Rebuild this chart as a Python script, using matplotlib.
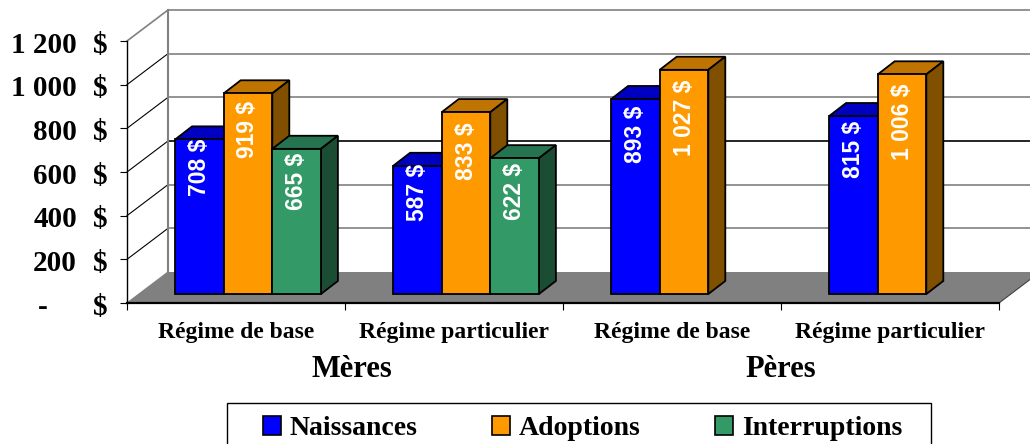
import matplotlib
matplotlib.use("Agg")
import matplotlib.pyplot as plt
from matplotlib.patches import Polygon, Patch, Rectangle

plt.rcParams['font.family'] = ['Liberation Serif', 'DejaVu Serif']

regimes = ["Régime de base", "Régime particulier", "Régime de base", "Régime particulier"]
parents = ["Mères", "Pères"]
series = ["Naissances", "Adoptions", "Interruptions"]
naissances = [708, 587, 893, 815]
adoptions = [919, 833, 1027, 1006]
interruptions = [665, 622, None, None]
valeurs = [naissances, adoptions, interruptions]
y_ticks = [0, 200, 400, 600, 800, 1000, 1200]
y_labels = ["-", "200", "400", "600", "800", "1 000", "1 200"]

# front, top, side colour of each series
couleurs = [("#0000FF", "#0000C0", "#000080"),
            ("#FF9900", "#BF7300", "#805000"),
            ("#339966", "#267350", "#1A4D33")]

# how far under the bar top each value label starts (pixels)
decalages = [[-1, -2, 7, 5],
             [7, 10, 10, 9],
             [4, 5, 0, 0]]

# depth of the floor and of the bars, in data units
px_y = 1200 / 262
prof_x = 41 / 218
prof_y = 142
bar_dx = 17 / 218
bar_dy = 60
base_x = 12 / 218
base_y = 41
larg = 48.6 / 218


def etiquette(v):
    txt = f"{v:,}".replace(",", " ")
    return txt + " $"


fig = plt.figure(figsize=(10.3, 4.44), dpi=100)
ax = fig.add_axes([127 / 1030, (444 - 303) / 444, 872 / 1030, 262 / 444])
ax.set_xlim(0, 4)
ax.set_ylim(0, 1200)
ax.patch.set_visible(False)

# floor
ax.add_patch(Polygon([(0, 0), (4, 0), (4 + prof_x, prof_y), (prof_x, prof_y)],
                     facecolor="#808080", edgecolor="none", clip_on=False, zorder=1))

# walls and gridlines
for t in y_ticks:
    if t > 0:
        gris = "#000000" if t == 600 else "#808080"
        ax.plot([prof_x, 4 + prof_x], [t + prof_y, t + prof_y], color=gris, lw=1.2,
                clip_on=False, zorder=1)
        ax.plot([0, prof_x], [t, t + prof_y], color="#808080" if t == 1200 else "#000000",
                lw=1.2 if t == 1200 else 0.8, clip_on=False, zorder=1)
ax.plot([prof_x, prof_x], [prof_y, 1200 + prof_y], color="#808080", lw=1.5, clip_on=False, zorder=1)
ax.plot([0, prof_x], [0, prof_y], color="#808080", lw=0.8, clip_on=False, zorder=1)
ax.plot([4, 4 + prof_x], [0, prof_y], color="#404040", lw=0.8, clip_on=False, zorder=1)

# bars
z = 3
for g in range(4):
    for s in range(3):
        v = valeurs[s][g]
        if v is None:
            continue
        x0 = g + 0.5 + base_x + (s - 1.5) * larg
        x1 = x0 + larg
        y0 = base_y
        y1 = base_y + v
        front, top, side = couleurs[s]
        ax.add_patch(Polygon([(x0, y1), (x1, y1), (x1 + bar_dx, y1 + bar_dy), (x0 + bar_dx, y1 + bar_dy)],
                             facecolor=top, edgecolor="black", lw=1.3, clip_on=False, zorder=z))
        ax.add_patch(Polygon([(x1, y0), (x1 + bar_dx, y0 + bar_dy), (x1 + bar_dx, y1 + bar_dy), (x1, y1)],
                             facecolor=side, edgecolor="black", lw=1.3, clip_on=False, zorder=z))
        ax.add_patch(Polygon([(x0, y0), (x1, y0), (x1, y1), (x0, y1)],
                             facecolor=front, edgecolor="black", lw=1.3, clip_on=False, zorder=z))
        ax.text((x0 + x1) / 2, y1 - decalages[s][g] * px_y, etiquette(v), rotation=90, ha="center", va="top",
                color="white", fontsize=16.5, fontweight="bold", family="Liberation Sans", zorder=z)
        z += 1

# axes
for nom in ["top", "right"]:
    ax.spines[nom].set_visible(False)
ax.spines["bottom"].set_linewidth(1.6)
ax.spines["bottom"].set_zorder(2)
ax.spines["left"].set_linewidth(1.0)
ax.set_yticks(y_ticks)
ax.set_yticklabels([])
ax.set_xticks(range(5))
ax.set_xticklabels([])
ax.tick_params(axis="both", length=5, width=0.8, direction="out")

trans = ax.get_yaxis_transform()
for t, lab in zip(y_ticks, y_labels):
    y_txt = t - 4 * px_y
    if lab == "-":
        ax.text(-84 / 872, y_txt, lab, transform=trans, ha="center", va="center",
                fontsize=21, fontweight="bold", clip_on=False)
    else:
        ax.text(-50 / 872, y_txt, lab, transform=trans, ha="right", va="center",
                fontsize=21, fontweight="bold", clip_on=False)
    ax.text(-19 / 872, y_txt, "$", transform=trans, ha="right", va="center",
            fontsize=21, fontweight="bold", clip_on=False)

for i, lab in enumerate(regimes):
    ax.text(i + 0.5, -160, lab, ha="center", va="baseline", fontsize=17, fontweight="bold")
ax.text(1.03, -339, parents[0], ha="center", va="baseline", fontsize=22, fontweight="bold")
ax.text(3.0, -339, parents[1], ha="center", va="baseline", fontsize=22, fontweight="bold")

# legend box runs past the bottom of the picture
fig.add_artist(Rectangle((227 / 1030, -10 / 444), 704 / 1030, 51 / 444, transform=fig.transFigure,
                         facecolor="white", edgecolor="black", lw=1.0))
handles = [Patch(facecolor=c[0], edgecolor="black", lw=1.2) for c in couleurs]
leg = fig.legend(handles, series, ncol=3, loc="upper left", bbox_to_anchor=(263 / 1030, (444 - 416) / 444),
                 prop={"size": 20, "weight": "bold"}, frameon=False,
                 borderaxespad=0, borderpad=0, handlelength=0.65, handleheight=0.65,
                 handletextpad=0.3, columnspacing=2.7)

fig.savefig("out.png", dpi=100)
